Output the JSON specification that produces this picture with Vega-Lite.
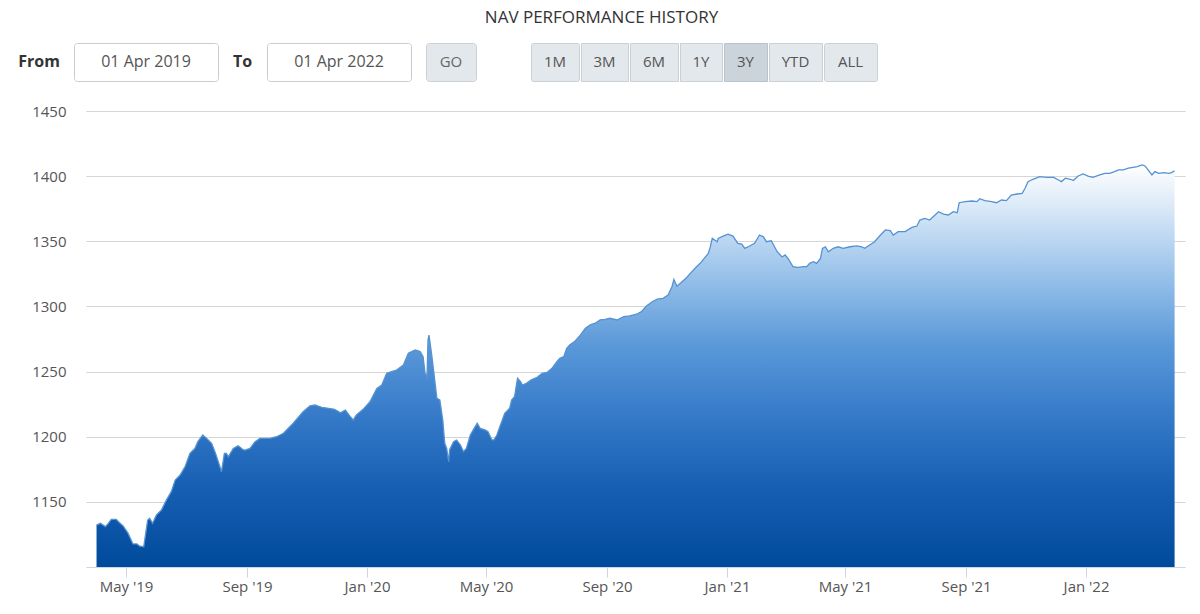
{
  "$schema": "https://vega.github.io/schema/vega-lite/v6.json",
  "padding": {"left": 18, "top": 8, "right": 15, "bottom": 5},
  "background": "#ffffff",
  "config": {"font": "Open Sans", "view": {"stroke": null}},
  "title": {"text": "NAV PERFORMANCE HISTORY", "fontSize": 17, "fontWeight": "normal", "color": "#333333", "font": "Open Sans", "anchor": "middle", "offset": 16},
  "spacing": 22,
  "vconcat": [
    {
      "spacing": 53,
      "hconcat": [
        {
          "spacing": 13,
          "hconcat": [
            {"width": 42, "height": 38, "data": {"values": [{"label": "From"}]}, "mark": {"type": "text", "fontSize": 16, "fontWeight": "bold", "color": "#333333"}, "encoding": {"text": {"field": "label"}}},
            {"width": 144, "height": 38, "view": {"stroke": "#cccccc", "fill": "#ffffff", "cornerRadius": 3}, "data": {"values": [{"label": "01 Apr 2019"}]}, "mark": {"type": "text", "fontSize": 16, "color": "#555555"}, "encoding": {"text": {"field": "label"}}},
            {"width": 17, "height": 38, "data": {"values": [{"label": "To"}]}, "mark": {"type": "text", "fontSize": 16, "fontWeight": "bold", "color": "#333333"}, "encoding": {"text": {"field": "label"}}},
            {"width": 144, "height": 38, "view": {"stroke": "#cccccc", "fill": "#ffffff", "cornerRadius": 3}, "data": {"values": [{"label": "01 Apr 2022"}]}, "mark": {"type": "text", "fontSize": 16, "color": "#555555"}, "encoding": {"text": {"field": "label"}}},
            {"width": 50, "height": 38, "view": {"stroke": "#c9d0d6", "fill": "#e3e8ec", "cornerRadius": 3}, "data": {"values": [{"label": "GO"}]}, "mark": {"type": "text", "fontSize": 15, "color": "#666666"}, "encoding": {"text": {"field": "label"}}}
          ]
        },
        {
          "spacing": 0,
          "hconcat": [
            {"width": 48, "height": 38, "view": {"stroke": "#c9d0d6", "fill": "#e3e8ec", "cornerRadius": 2}, "data": {"values": [{"label": "1M"}]}, "mark": {"type": "text", "fontSize": 15, "color": "#555555"}, "encoding": {"text": {"field": "label"}}},
            {"width": 47, "height": 38, "view": {"stroke": "#c9d0d6", "fill": "#e3e8ec"}, "data": {"values": [{"label": "3M"}]}, "mark": {"type": "text", "fontSize": 15, "color": "#555555"}, "encoding": {"text": {"field": "label"}}},
            {"width": 48, "height": 38, "view": {"stroke": "#c9d0d6", "fill": "#e3e8ec"}, "data": {"values": [{"label": "6M"}]}, "mark": {"type": "text", "fontSize": 15, "color": "#555555"}, "encoding": {"text": {"field": "label"}}},
            {"width": 42, "height": 38, "view": {"stroke": "#c9d0d6", "fill": "#e3e8ec"}, "data": {"values": [{"label": "1Y"}]}, "mark": {"type": "text", "fontSize": 15, "color": "#555555"}, "encoding": {"text": {"field": "label"}}},
            {"width": 43, "height": 38, "view": {"stroke": "#b9c3cc", "fill": "#cbd4db"}, "data": {"values": [{"label": "3Y"}]}, "mark": {"type": "text", "fontSize": 15, "color": "#555555"}, "encoding": {"text": {"field": "label"}}},
            {"width": 53, "height": 38, "view": {"stroke": "#c9d0d6", "fill": "#e3e8ec"}, "data": {"values": [{"label": "YTD"}]}, "mark": {"type": "text", "fontSize": 15, "color": "#555555"}, "encoding": {"text": {"field": "label"}}},
            {"width": 53, "height": 38, "view": {"stroke": "#c9d0d6", "fill": "#e3e8ec", "cornerRadius": 2}, "data": {"values": [{"label": "ALL"}]}, "mark": {"type": "text", "fontSize": 15, "color": "#555555"}, "encoding": {"text": {"field": "label"}}}
          ]
        }
      ]
    },
    {
      "spacing": 0,
      "hconcat": [
    {"width": 1, "height": 1, "data": {"values": [{"label": ""}]}, "mark": {"type": "text"}, "encoding": {"text": {"field": "label"}}},
    {
      "width": 1099,
      "height": 456,
      "data": {"values": [
        {"date": "2019-04-01", "nav": 1132.2}, {"date": "2019-04-05", "nav": 1133.5}, {"date": "2019-04-10", "nav": 1131.0}, {"date": "2019-04-13", "nav": 1133.5},
        {"date": "2019-04-16", "nav": 1136.6}, {"date": "2019-04-21", "nav": 1136.6}, {"date": "2019-04-25", "nav": 1133.5}, {"date": "2019-04-28", "nav": 1131.5},
        {"date": "2019-05-03", "nav": 1126.0}, {"date": "2019-05-08", "nav": 1117.7}, {"date": "2019-05-12", "nav": 1117.7}, {"date": "2019-05-15", "nav": 1116.0},
        {"date": "2019-05-19", "nav": 1115.6}, {"date": "2019-05-23", "nav": 1136.0}, {"date": "2019-05-25", "nav": 1137.4}, {"date": "2019-05-28", "nav": 1133.5},
        {"date": "2019-06-01", "nav": 1140.0}, {"date": "2019-06-06", "nav": 1143.7}, {"date": "2019-06-11", "nav": 1151.3}, {"date": "2019-06-16", "nav": 1157.8},
        {"date": "2019-06-20", "nav": 1166.7}, {"date": "2019-06-25", "nav": 1170.6}, {"date": "2019-06-30", "nav": 1177.0}, {"date": "2019-07-05", "nav": 1187.2},
        {"date": "2019-07-10", "nav": 1191.0}, {"date": "2019-07-13", "nav": 1196.2}, {"date": "2019-07-18", "nav": 1201.3}, {"date": "2019-07-22", "nav": 1198.7},
        {"date": "2019-07-27", "nav": 1194.9}, {"date": "2019-07-31", "nav": 1187.2}, {"date": "2019-08-05", "nav": 1175.7}, {"date": "2019-08-06", "nav": 1173.0},
        {"date": "2019-08-09", "nav": 1187.2}, {"date": "2019-08-11", "nav": 1187.2}, {"date": "2019-08-13", "nav": 1184.6}, {"date": "2019-08-18", "nav": 1191.0},
        {"date": "2019-08-23", "nav": 1193.0}, {"date": "2019-08-28", "nav": 1190.0}, {"date": "2019-08-30", "nav": 1189.7}, {"date": "2019-09-04", "nav": 1191.0},
        {"date": "2019-09-09", "nav": 1196.0}, {"date": "2019-09-14", "nav": 1198.7}, {"date": "2019-09-24", "nav": 1198.7}, {"date": "2019-10-01", "nav": 1200.0},
        {"date": "2019-10-08", "nav": 1202.6}, {"date": "2019-10-18", "nav": 1210.3}, {"date": "2019-10-28", "nav": 1219.2}, {"date": "2019-11-04", "nav": 1223.6},
        {"date": "2019-11-09", "nav": 1224.4}, {"date": "2019-11-16", "nav": 1222.6}, {"date": "2019-11-23", "nav": 1221.8}, {"date": "2019-11-29", "nav": 1221.0},
        {"date": "2019-12-05", "nav": 1218.4}, {"date": "2019-12-10", "nav": 1220.5}, {"date": "2019-12-15", "nav": 1215.4}, {"date": "2019-12-18", "nav": 1212.8},
        {"date": "2019-12-21", "nav": 1216.6}, {"date": "2019-12-28", "nav": 1221.0}, {"date": "2020-01-04", "nav": 1226.8}, {"date": "2020-01-11", "nav": 1237.1},
        {"date": "2020-01-16", "nav": 1239.7}, {"date": "2020-01-21", "nav": 1248.6}, {"date": "2020-01-26", "nav": 1249.9}, {"date": "2020-01-31", "nav": 1251.2},
        {"date": "2020-02-07", "nav": 1255.0}, {"date": "2020-02-12", "nav": 1264.0}, {"date": "2020-02-19", "nav": 1266.6}, {"date": "2020-02-24", "nav": 1265.3},
        {"date": "2020-02-27", "nav": 1261.4}, {"date": "2020-02-29", "nav": 1248.7}, {"date": "2020-03-02", "nav": 1246.0}, {"date": "2020-03-03", "nav": 1274.2},
        {"date": "2020-03-04", "nav": 1278.0}, {"date": "2020-03-07", "nav": 1261.4}, {"date": "2020-03-09", "nav": 1248.7}, {"date": "2020-03-12", "nav": 1229.5},
        {"date": "2020-03-15", "nav": 1228.2}, {"date": "2020-03-18", "nav": 1212.8}, {"date": "2020-03-20", "nav": 1195.0}, {"date": "2020-03-22", "nav": 1191.0},
        {"date": "2020-03-24", "nav": 1180.8}, {"date": "2020-03-25", "nav": 1190.0}, {"date": "2020-03-29", "nav": 1196.2}, {"date": "2020-04-01", "nav": 1197.5},
        {"date": "2020-04-05", "nav": 1193.6}, {"date": "2020-04-08", "nav": 1188.5}, {"date": "2020-04-11", "nav": 1191.0}, {"date": "2020-04-15", "nav": 1201.3},
        {"date": "2020-04-18", "nav": 1205.2}, {"date": "2020-04-22", "nav": 1210.3}, {"date": "2020-04-25", "nav": 1206.4}, {"date": "2020-04-30", "nav": 1205.2},
        {"date": "2020-05-03", "nav": 1203.9}, {"date": "2020-05-07", "nav": 1197.5}, {"date": "2020-05-09", "nav": 1197.5}, {"date": "2020-05-12", "nav": 1201.3},
        {"date": "2020-05-15", "nav": 1207.7}, {"date": "2020-05-20", "nav": 1218.0}, {"date": "2020-05-25", "nav": 1221.8}, {"date": "2020-05-27", "nav": 1228.2},
        {"date": "2020-05-30", "nav": 1230.8}, {"date": "2020-06-02", "nav": 1244.9}, {"date": "2020-06-05", "nav": 1242.3}, {"date": "2020-06-07", "nav": 1239.7},
        {"date": "2020-06-11", "nav": 1241.0}, {"date": "2020-06-16", "nav": 1243.6}, {"date": "2020-06-22", "nav": 1245.6}, {"date": "2020-06-27", "nav": 1248.7},
        {"date": "2020-07-02", "nav": 1249.3}, {"date": "2020-07-07", "nav": 1252.5}, {"date": "2020-07-12", "nav": 1257.6}, {"date": "2020-07-15", "nav": 1260.2},
        {"date": "2020-07-19", "nav": 1261.4}, {"date": "2020-07-22", "nav": 1267.9}, {"date": "2020-07-25", "nav": 1270.4}, {"date": "2020-07-30", "nav": 1273.0},
        {"date": "2020-08-05", "nav": 1278.1}, {"date": "2020-08-10", "nav": 1283.2}, {"date": "2020-08-15", "nav": 1285.8}, {"date": "2020-08-20", "nav": 1287.1},
        {"date": "2020-08-25", "nav": 1289.6}, {"date": "2020-08-30", "nav": 1290.1}, {"date": "2020-09-04", "nav": 1290.9}, {"date": "2020-09-11", "nav": 1289.6},
        {"date": "2020-09-18", "nav": 1292.1}, {"date": "2020-09-24", "nav": 1292.7}, {"date": "2020-10-01", "nav": 1294.0}, {"date": "2020-10-06", "nav": 1296.0},
        {"date": "2020-10-11", "nav": 1300.3}, {"date": "2020-10-17", "nav": 1303.6}, {"date": "2020-10-22", "nav": 1305.6}, {"date": "2020-10-28", "nav": 1306.2},
        {"date": "2020-11-02", "nav": 1308.7}, {"date": "2020-11-06", "nav": 1315.1}, {"date": "2020-11-08", "nav": 1320.7}, {"date": "2020-11-11", "nav": 1315.5},
        {"date": "2020-11-16", "nav": 1318.8}, {"date": "2020-11-21", "nav": 1322.2}, {"date": "2020-11-26", "nav": 1326.5}, {"date": "2020-12-01", "nav": 1330.4},
        {"date": "2020-12-06", "nav": 1334.2}, {"date": "2020-12-10", "nav": 1338.0}, {"date": "2020-12-13", "nav": 1340.6}, {"date": "2020-12-15", "nav": 1345.7},
        {"date": "2020-12-17", "nav": 1352.2}, {"date": "2020-12-22", "nav": 1349.7}, {"date": "2020-12-23", "nav": 1352.2}, {"date": "2020-12-28", "nav": 1354.0},
        {"date": "2021-01-02", "nav": 1355.5}, {"date": "2021-01-07", "nav": 1354.0}, {"date": "2021-01-12", "nav": 1348.4}, {"date": "2021-01-16", "nav": 1347.9},
        {"date": "2021-01-19", "nav": 1344.6}, {"date": "2021-01-24", "nav": 1346.4}, {"date": "2021-01-29", "nav": 1348.4}, {"date": "2021-02-03", "nav": 1354.8},
        {"date": "2021-02-07", "nav": 1353.4}, {"date": "2021-02-10", "nav": 1349.7}, {"date": "2021-02-15", "nav": 1350.4}, {"date": "2021-02-21", "nav": 1342.0},
        {"date": "2021-02-26", "nav": 1338.0}, {"date": "2021-03-01", "nav": 1339.5}, {"date": "2021-03-04", "nav": 1336.9}, {"date": "2021-03-09", "nav": 1330.5},
        {"date": "2021-03-14", "nav": 1330.0}, {"date": "2021-03-20", "nav": 1330.5}, {"date": "2021-03-23", "nav": 1330.5}, {"date": "2021-03-26", "nav": 1333.1},
        {"date": "2021-03-30", "nav": 1334.3}, {"date": "2021-04-02", "nav": 1333.1}, {"date": "2021-04-06", "nav": 1336.9}, {"date": "2021-04-08", "nav": 1344.6},
        {"date": "2021-04-11", "nav": 1345.8}, {"date": "2021-04-14", "nav": 1342.0}, {"date": "2021-04-19", "nav": 1344.6}, {"date": "2021-04-24", "nav": 1345.8},
        {"date": "2021-04-29", "nav": 1344.6}, {"date": "2021-05-06", "nav": 1345.8}, {"date": "2021-05-13", "nav": 1346.4}, {"date": "2021-05-18", "nav": 1345.8},
        {"date": "2021-05-21", "nav": 1344.6}, {"date": "2021-05-26", "nav": 1347.1}, {"date": "2021-05-31", "nav": 1349.7}, {"date": "2021-06-06", "nav": 1354.8},
        {"date": "2021-06-11", "nav": 1358.7}, {"date": "2021-06-16", "nav": 1358.2}, {"date": "2021-06-19", "nav": 1354.8}, {"date": "2021-06-24", "nav": 1357.4},
        {"date": "2021-07-01", "nav": 1357.4}, {"date": "2021-07-08", "nav": 1360.7}, {"date": "2021-07-13", "nav": 1361.7}, {"date": "2021-07-16", "nav": 1366.3},
        {"date": "2021-07-21", "nav": 1367.6}, {"date": "2021-07-26", "nav": 1366.3}, {"date": "2021-08-04", "nav": 1372.7}, {"date": "2021-08-09", "nav": 1370.9},
        {"date": "2021-08-14", "nav": 1370.2}, {"date": "2021-08-19", "nav": 1372.7}, {"date": "2021-08-23", "nav": 1371.9}, {"date": "2021-08-25", "nav": 1379.6},
        {"date": "2021-08-31", "nav": 1380.4}, {"date": "2021-09-07", "nav": 1380.9}, {"date": "2021-09-12", "nav": 1380.4}, {"date": "2021-09-15", "nav": 1382.7},
        {"date": "2021-09-20", "nav": 1381.2}, {"date": "2021-09-27", "nav": 1380.4}, {"date": "2021-10-02", "nav": 1379.6}, {"date": "2021-10-07", "nav": 1381.7},
        {"date": "2021-10-12", "nav": 1381.2}, {"date": "2021-10-17", "nav": 1385.5}, {"date": "2021-10-23", "nav": 1386.3}, {"date": "2021-10-28", "nav": 1386.8},
        {"date": "2021-10-31", "nav": 1390.7}, {"date": "2021-11-03", "nav": 1395.8}, {"date": "2021-11-08", "nav": 1397.6}, {"date": "2021-11-15", "nav": 1399.6},
        {"date": "2021-11-22", "nav": 1399.1}, {"date": "2021-11-29", "nav": 1399.1}, {"date": "2021-12-04", "nav": 1397.0}, {"date": "2021-12-07", "nav": 1395.8},
        {"date": "2021-12-11", "nav": 1398.4}, {"date": "2021-12-16", "nav": 1397.6}, {"date": "2021-12-19", "nav": 1396.6}, {"date": "2021-12-24", "nav": 1400.1},
        {"date": "2021-12-29", "nav": 1401.7}, {"date": "2022-01-03", "nav": 1400.1}, {"date": "2022-01-08", "nav": 1399.1}, {"date": "2022-01-15", "nav": 1400.9},
        {"date": "2022-01-20", "nav": 1402.2}, {"date": "2022-01-25", "nav": 1402.2}, {"date": "2022-01-30", "nav": 1403.5}, {"date": "2022-02-03", "nav": 1404.8},
        {"date": "2022-02-08", "nav": 1404.8}, {"date": "2022-02-13", "nav": 1406.1}, {"date": "2022-02-18", "nav": 1406.8}, {"date": "2022-02-22", "nav": 1407.3},
        {"date": "2022-02-27", "nav": 1408.6}, {"date": "2022-03-02", "nav": 1407.8}, {"date": "2022-03-05", "nav": 1404.8}, {"date": "2022-03-09", "nav": 1400.9},
        {"date": "2022-03-12", "nav": 1403.5}, {"date": "2022-03-16", "nav": 1402.2}, {"date": "2022-03-21", "nav": 1402.7}, {"date": "2022-03-26", "nav": 1402.2},
        {"date": "2022-03-29", "nav": 1402.7}, {"date": "2022-04-01", "nav": 1404.2}
      ]},
      "mark": {
        "type": "area",
        "opacity": 1,
        "fillOpacity": 1,
        "line": {"color": "#5592d2", "strokeWidth": 1.3},
        "color": {
          "gradient": "linear", "x1": 0, "y1": 0, "x2": 0, "y2": 1,
          "stops": [
            {"offset": 0, "color": "#ffffff"},
            {"offset": 0.1, "color": "#dceaf8"},
            {"offset": 0.3, "color": "#8fbce8"},
            {"offset": 0.45, "color": "#5a98d8"},
            {"offset": 0.6, "color": "#3a7ecb"},
            {"offset": 0.8, "color": "#175fb3"},
            {"offset": 1, "color": "#004a9b"}
          ]
        }
      },
      "encoding": {
        "x": {
          "field": "date", "type": "temporal",
          "scale": {"type": "utc", "domain": [
            {"year": 2019, "month": 3, "date": 21, "hours": 7, "utc": true},
            {"year": 2022, "month": 4, "date": 11, "hours": 14, "utc": true}
          ]},
          "axis": {
            "title": null,
            "values": [
              {"year": 2019, "month": 5, "date": 1, "utc": true},
              {"year": 2019, "month": 9, "date": 1, "utc": true},
              {"year": 2020, "month": 1, "date": 1, "utc": true},
              {"year": 2020, "month": 5, "date": 1, "utc": true},
              {"year": 2020, "month": 9, "date": 1, "utc": true},
              {"year": 2021, "month": 1, "date": 1, "utc": true},
              {"year": 2021, "month": 5, "date": 1, "utc": true},
              {"year": 2021, "month": 9, "date": 1, "utc": true},
              {"year": 2022, "month": 1, "date": 1, "utc": true}
            ],
            "format": "%b '%y",
            "grid": false,
            "domainColor": "#ccd6eb",
            "tickColor": "#ccd6eb",
            "tickSize": 10,
            "labelPadding": 2,
            "labelFont": "Open Sans",
            "labelFontSize": 15,
            "labelColor": "#555555",
            "labelFlush": false
          }
        },
        "y": {
          "field": "nav", "type": "quantitative",
          "scale": {"domain": [1100, 1450], "zero": false, "nice": false},
          "axis": {
            "title": null,
            "values": [1150, 1200, 1250, 1300, 1350, 1400, 1450],
            "format": "d",
            "grid": true,
            "gridColor": "#d6d6d6",
            "domain": false,
            "ticks": false,
            "labelPadding": 20,
            "labelFont": "Open Sans",
            "labelFontSize": 15,
            "labelColor": "#555555",
            "minExtent": 67
          }
        },
        "y2": {"datum": 1100}
      }
    }
      ]
    }
  ]
}
